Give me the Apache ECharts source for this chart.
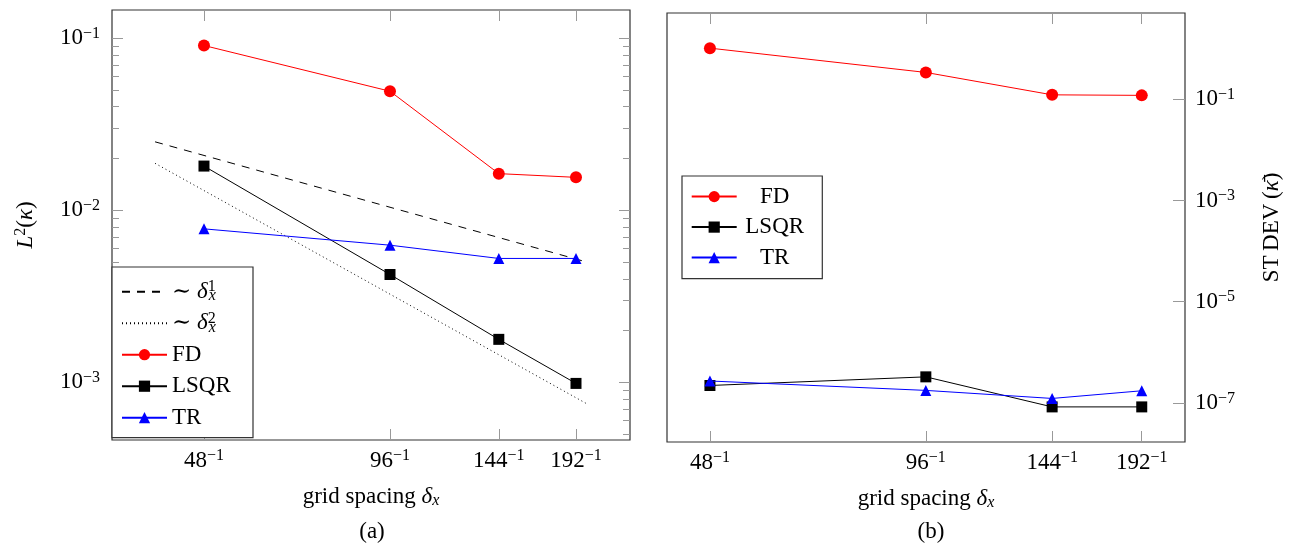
<!DOCTYPE html>
<html><head><meta charset="utf-8">
<script src="https://cdn.jsdelivr.net/npm/echarts@6/dist/echarts.min.js"></script>
<style>html,body{margin:0;padding:0;background:#fff}#c{width:1292px;height:547px}</style>
</head><body><div id="c"></div>
<script>
// ---- data ----
const gridN = [48, 96, 144, 192];              // grid spacing delta_x = 1/N
// panel (a): L2(kappa)
const fdL2   = [0.0907, 0.0492, 0.01633, 0.01554];
const lsqrL2 = [0.01807, 0.004236, 0.001778, 0.000986];
const trL2   = [0.0078, 0.00627, 0.00525, 0.00525];
// reference slopes
const refN  = [40, 200];
const ref1  = [0.025, 0.005];     // ~ delta_x^1
const ref2  = [0.01875, 0.00075]; // ~ delta_x^2
// panel (b): STDEV(kappa bar)
const fdSD   = [1.03, 0.341, 0.123, 0.12];
const lsqrSD = [2.2e-7, 3.26e-7, 8.3e-8, 8.3e-8];
const trSD   = [2.7e-7, 1.76e-7, 1.22e-7, 1.73e-7];
// tick values
const yTicksA = [1e-3, 1e-2, 1e-1];
const yTicksB = [1e-7, 1e-5, 1e-3, 1e-1];
const minorMult = [2, 3, 4, 5, 6, 7, 8, 9];
const minorDecadesA = [1e-4, 1e-3, 1e-2, 1e-1];

// ---- helpers ----
const FONT = '"Liberation Serif", "DejaVu Serif", serif';
const FS = 23, FSS = 16;
const yMinA = Math.pow(10, -3.335), yMaxA = Math.pow(10, -0.836);
const yMinB = Math.pow(10, -7.775), yMaxB = Math.pow(10, 0.708);
const xMinA = 34.07, xMaxA = 234.8, xMinB = 41.82, xMaxB = 220.6;
const minorA = [];
minorDecadesA.forEach(d => minorMult.forEach(k => { const v = k * d; if (v > yMinA && v < yMaxA) minorA.push(v); }));

const richBase = {
  b: {fontFamily: FONT, fontSize: FS, color: '#000', lineHeight: 25},
  n: {fontFamily: FONT, fontSize: FS, color: '#000', lineHeight: 25},
  nc: {fontFamily: FONT, fontSize: FS, color: '#000', lineHeight: 25, align: 'center'},
  i: {fontFamily: FONT, fontSize: FS, color: '#000', fontStyle: 'italic', lineHeight: 25},
  sup: {fontFamily: FONT, fontSize: FSS, color: '#000', verticalAlign: 'top', lineHeight: 9},
  supw: {fontFamily: FONT, fontSize: FSS, color: '#000', fontStyle: 'normal', verticalAlign: 'top', lineHeight: 9, width: 1},
  sub: {fontFamily: FONT, fontSize: FSS, color: '#000', fontStyle: 'italic', verticalAlign: 'bottom', lineHeight: 12}
};
const powLabel = v => { const e = Math.round(Math.log10(v)); return '{b|10}{sup|' + (e < 0 ? '\u2212' + (-e) : e) + '}'; };
const invLabel = v => '{b|' + Math.round(v) + '}{sup|\u22121}';

const TICK = '#999';
function xAxisDef(grid, min, max, pos, labels) {
  return {
    type: 'log', gridIndex: grid, position: pos, min: min, max: max,
    axisLine: {show: false}, splitLine: {show: false}, minorTick: {show: false},
    axisTick: {show: true, inside: true, length: 11, customValues: gridN, lineStyle: {color: TICK, width: 1}},
    axisLabel: labels ? {show: true, customValues: gridN, margin: 8, formatter: invLabel, rich: richBase} : {show: false}
  };
}
function yAxisDef(grid, min, max, pos, ticks, len, labels) {
  return {
    type: 'log', gridIndex: grid, position: pos, min: min, max: max,
    axisLine: {show: false}, splitLine: {show: false}, minorTick: {show: false},
    axisTick: {show: true, inside: true, length: len, customValues: ticks, lineStyle: {color: TICK, width: 1}},
    axisLabel: labels ? Object.assign({show: true, customValues: ticks, formatter: powLabel, rich: richBase}, labels) : {show: false}
  };
}
const pairs = (xs, ys) => xs.map((x, i) => [x, ys[i]]);

const legendNamesA = {
  'ref1': '{n|\u223C }{i|\u03B4}{supw|1}{sub|x}',
  'ref2': '{n|\u223C }{i|\u03B4}{supw|2}{sub|x}',
  'FD': '{n|FD}', 'LSQR': '{n|LSQR}', 'TR': '{n|TR}'
};
const legendNamesB = {'FD': '{nc|FD}', 'LSQR': '{nc|LSQR}', 'TR': '{nc|TR}'};

const option = {
  animation: false,
  backgroundColor: '#fff',
  title: [
    {text: '(a)', left: 367, top: 515, textAlign: 'center', textStyle: {fontFamily: FONT, fontSize: FS, fontWeight: 'normal', color: '#000'}},
    {text: '(b)', left: 926, top: 515, textAlign: 'center', textStyle: {fontFamily: FONT, fontSize: FS, fontWeight: 'normal', color: '#000'}}
  ],
  grid: [
    {left: 112, top: 10, width: 518, height: 430, show: true, borderColor: '#333', borderWidth: 1.2, backgroundColor: 'transparent'},
    {left: 667, top: 13, width: 518, height: 429, show: true, borderColor: '#333', borderWidth: 1.2, backgroundColor: 'transparent'}
  ],
  xAxis: [
    Object.assign(xAxisDef(0, xMinA, xMaxA, 'bottom', true), {
      name: '{n|grid spacing }{i|\u03B4}{sub|x}', nameLocation: 'middle', nameGap: 44,
      nameTextStyle: {rich: richBase}
    }),
    xAxisDef(0, xMinA, xMaxA, 'top', false),
    Object.assign(xAxisDef(1, xMinB, xMaxB, 'bottom', true), {
      name: '{n|grid spacing }{i|\u03B4}{sub|x}', nameLocation: 'middle', nameGap: 44,
      nameTextStyle: {rich: richBase}
    }),
    xAxisDef(1, xMinB, xMaxB, 'top', false)
  ],
  yAxis: [
    Object.assign(yAxisDef(0, yMinA, yMaxA, 'left', yTicksA, 11, {margin: 12}), {
      name: '{i|L}{sup|2}{n|(}{i|\u03BA}{n|)}', nameLocation: 'middle', nameGap: 74, nameRotate: 90,
      nameTextStyle: {rich: richBase}
    }),
    yAxisDef(0, yMinA, yMaxA, 'left', minorA, 7, null),
    yAxisDef(0, yMinA, yMaxA, 'right', yTicksA, 11, null),
    yAxisDef(0, yMinA, yMaxA, 'right', minorA, 7, null),
    Object.assign(yAxisDef(1, yMinB, yMaxB, 'right', yTicksB, 12, {margin: 10}), {
      name: '{n|ST\u2009DEV\u2009(}{i|\u03BA\u0304}{n|)}', nameLocation: 'middle', nameGap: 74, nameRotate: 90,
      nameTextStyle: {rich: richBase}
    })
  ],
  legend: [
    {
      orient: 'vertical', left: 112, top: 267, selectedMode: false,
      data: [{name: 'ref1', itemStyle: {opacity: 0}}, {name: 'ref2', itemStyle: {opacity: 0}}, 'FD', 'LSQR', 'TR'],
      itemWidth: 45, itemHeight: 14, itemGap: 6.5, padding: [12.2, 11, 7.5, 9],
      borderColor: '#333', borderWidth: 1.2, backgroundColor: '#fff', borderRadius: 0,
      formatter: n => legendNamesA[n],
      textStyle: {width: 70, lineHeight: 25, rich: richBase}
    },
    {
      orient: 'vertical', left: 682, top: 176, selectedMode: false,
      data: ['FD', 'LSQR', 'TR'],
      itemWidth: 45, itemHeight: 14, itemGap: 5.5, padding: [8.1, 14.6, 8.5, 8.7],
      borderColor: '#333', borderWidth: 1.2, backgroundColor: '#fff', borderRadius: 0,
      formatter: n => legendNamesB[n],
      textStyle: {width: 66, lineHeight: 25, rich: richBase}
    }
  ],
  series: [
    {name: 'ref1', type: 'line', xAxisIndex: 0, yAxisIndex: 0, data: pairs(refN, ref1), symbol: 'none',
     lineStyle: {color: '#000', width: 1, type: [8, 7]}, itemStyle: {color: '#000'}, z: 2},
    {name: 'ref2', type: 'line', xAxisIndex: 0, yAxisIndex: 0, data: pairs(refN, ref2), symbol: 'none',
     lineStyle: {color: '#000', width: 1, type: [1, 3]}, itemStyle: {color: '#000'}, z: 2},
    {name: 'FD', type: 'line', xAxisIndex: 0, yAxisIndex: 0, data: pairs(gridN, fdL2), symbol: 'circle', symbolSize: 12,
     lineStyle: {color: '#ff0000', width: 1}, itemStyle: {color: '#ff0000'}, z: 3},
    {name: 'LSQR', type: 'line', xAxisIndex: 0, yAxisIndex: 0, data: pairs(gridN, lsqrL2), symbol: 'rect', symbolSize: 11,
     lineStyle: {color: '#000', width: 1}, itemStyle: {color: '#000'}, z: 3},
    {name: 'TR', type: 'line', xAxisIndex: 0, yAxisIndex: 0, data: pairs(gridN, trL2), symbol: 'triangle', symbolSize: 11,
     lineStyle: {color: '#0000ff', width: 1}, itemStyle: {color: '#0000ff'}, z: 3},
    {name: 'FD', type: 'line', xAxisIndex: 2, yAxisIndex: 4, data: pairs(gridN, fdSD), symbol: 'circle', symbolSize: 12,
     lineStyle: {color: '#ff0000', width: 1}, itemStyle: {color: '#ff0000'}, z: 3},
    {name: 'LSQR', type: 'line', xAxisIndex: 2, yAxisIndex: 4, data: pairs(gridN, lsqrSD), symbol: 'rect', symbolSize: 11,
     lineStyle: {color: '#000', width: 1}, itemStyle: {color: '#000'}, z: 3},
    {name: 'TR', type: 'line', xAxisIndex: 2, yAxisIndex: 4, data: pairs(gridN, trSD), symbol: 'triangle', symbolSize: 11,
     lineStyle: {color: '#0000ff', width: 1}, itemStyle: {color: '#0000ff'}, z: 4}
  ]
};
const chart = echarts.init(document.getElementById('c'), null, {renderer: 'canvas'});
chart.setOption(option);
</script>
</body></html>
